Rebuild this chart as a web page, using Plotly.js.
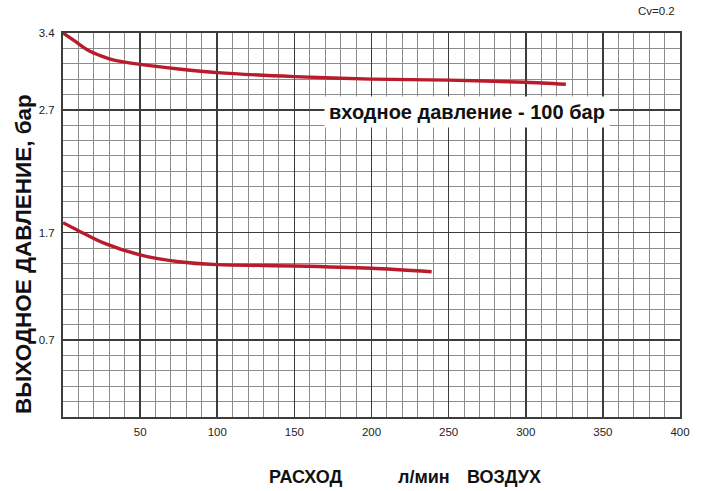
<!DOCTYPE html>
<html>
<head>
<meta charset="utf-8">
<script src="https://cdn.plot.ly/plotly-3.0.1.min.js"></script>
<style>
  html, body { margin: 0; padding: 0; background: #fff; }
  #chart { width: 702px; height: 491px; }
</style>
</head>
<body>
<div id="chart"></div>
<script>
// Flow, l/min (air)
const flowUpper = [0, 8, 16, 25, 33, 50, 75, 100, 150, 200, 250, 300, 326];
// Outlet pressure, read in chart grid divisions (25 divisions from bottom to top)
const pressUpper = [25.0, 24.45, 23.9, 23.5, 23.24, 22.96, 22.66, 22.42, 22.16, 22.0, 21.93, 21.79, 21.66];

const flowLower = [0, 10, 27, 50, 75, 100, 150, 200, 239];
const pressLower = [12.65, 12.13, 11.3, 10.55, 10.11, 9.92, 9.83, 9.68, 9.46];

// Axis labels as printed on the original chart
const xTickVals = [50, 100, 150, 200, 250, 300, 350, 400];
const yTickPos = [5, 12, 20, 25];
const yTickText = ['0.7', '1.7', '2.7', '3.4'];

const lineColor = '#b81c2c';
const font = 'Liberation Sans, Arial, sans-serif';

const traces = [
  { x: flowUpper, y: pressUpper, mode: 'lines', line: { color: lineColor, width: 3.4, shape: 'spline', smoothing: 0.8 }, hoverinfo: 'skip' },
  { x: flowLower, y: pressLower, mode: 'lines', line: { color: lineColor, width: 3.4, shape: 'spline', smoothing: 0.8 }, hoverinfo: 'skip' }
];

const layout = {
  width: 702, height: 491,
  margin: { l: 63, r: 22, t: 33, b: 74 },
  paper_bgcolor: '#ffffff', plot_bgcolor: '#ffffff',
  showlegend: false,
  font: { family: font, color: '#222', size: 11 },
  xaxis: {
    range: [0, 400], tickmode: 'array', tickvals: xTickVals,
    showgrid: true, gridcolor: '#3c3c3c', gridwidth: 1.6,
    zeroline: false, showline: true, mirror: true, linecolor: '#3c3c3c', linewidth: 2,
    ticks: '', ticklabelstandoff: 3, tickfont: { size: 11.5, color: '#222' },
    minor: { tickmode: 'linear', tick0: 0, dtick: 10, showgrid: true, gridcolor: '#8c8c8c', gridwidth: 1 }
  },
  yaxis: {
    range: [0, 25], tickmode: 'array', tickvals: yTickPos, ticktext: yTickText,
    showgrid: true, gridcolor: '#3c3c3c', gridwidth: 1.6,
    zeroline: false, showline: true, mirror: true, linecolor: '#3c3c3c', linewidth: 2,
    ticks: '', ticklabelstandoff: 4, tickfont: { size: 11.5, color: '#222' },
    minor: { tickmode: 'linear', tick0: 0, dtick: 1, showgrid: true, gridcolor: '#8c8c8c', gridwidth: 1 }
  },
  annotations: [
    { text: 'входное давление - 100 бар', xref: 'paper', yref: 'paper',
      x: (467 - 63) / 617, y: (417 - 112) / 384, xanchor: 'center', yanchor: 'middle',
      showarrow: false, bgcolor: '#ffffff', borderpad: 4,
      font: { family: font, size: 20, color: '#111', weight: 'bold' } },
    { text: 'Cv=0.2', xref: 'paper', yref: 'paper',
      x: (677 - 63) / 617, y: (417 - 11) / 384, xanchor: 'right', yanchor: 'middle',
      showarrow: false, font: { family: font, size: 11.5, color: '#222' } },
    { text: 'ВЫХОДНОЕ ДАВЛЕНИЕ, бар', xref: 'paper', yref: 'paper',
      x: (24 - 63) / 617, y: (417 - 254) / 384, xanchor: 'center', yanchor: 'middle',
      textangle: -90, showarrow: false,
      font: { family: font, size: 22.5, color: '#111', weight: 'bold' } },
    { text: 'РАСХОД', xref: 'paper', yref: 'paper',
      x: (306 - 63) / 617, y: (417 - 477) / 384, xanchor: 'center', yanchor: 'middle',
      showarrow: false, font: { family: font, size: 18, color: '#111', weight: 'bold' } },
    { text: 'л/мин', xref: 'paper', yref: 'paper',
      x: (424 - 63) / 617, y: (417 - 477) / 384, xanchor: 'center', yanchor: 'middle',
      showarrow: false, font: { family: font, size: 18, color: '#111', weight: 'bold' } },
    { text: 'ВОЗДУХ', xref: 'paper', yref: 'paper',
      x: (504 - 63) / 617, y: (417 - 477) / 384, xanchor: 'center', yanchor: 'middle',
      showarrow: false, font: { family: font, size: 18, color: '#111', weight: 'bold' } }
  ]
};

Plotly.newPlot('chart', traces, layout, { displayModeBar: false, staticPlot: true });
</script>
</body>
</html>
